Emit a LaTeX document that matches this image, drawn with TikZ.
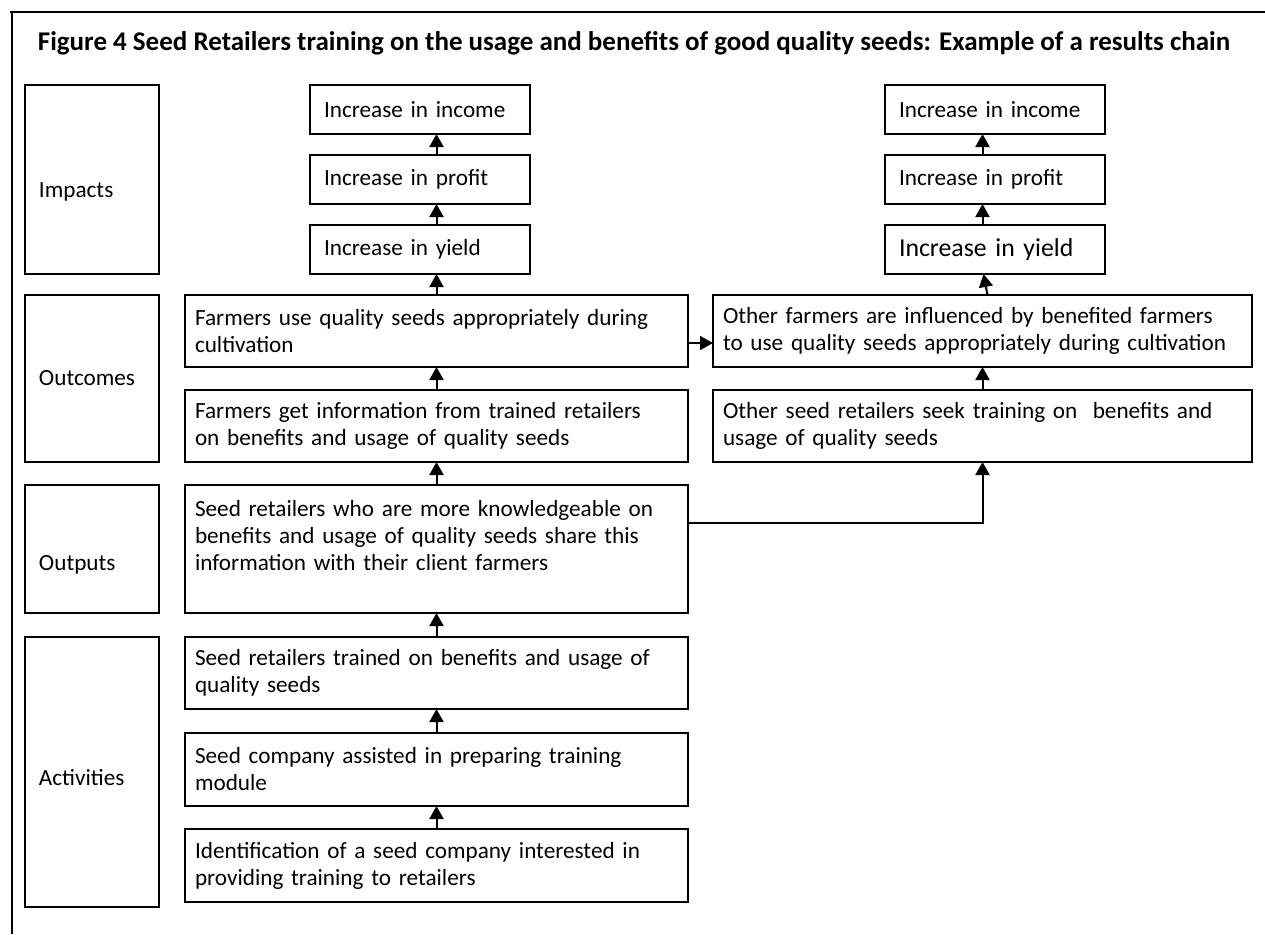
\documentclass[tikz,border=0pt]{standalone}
\usepackage{fontspec}
\setmainfont{Carlito}
\usetikzlibrary{arrows.meta,positioning,calc}
\newcommand\boxfont{\fontsize{11.6}{13.5}\selectfont}

\begin{document}
\begin{tikzpicture}[x=0.5pt,y=-0.5pt,
    box/.style={draw,line width=0.8pt,outer sep=0pt,inner xsep=5pt,inner ysep=2pt,align=left,font=\boxfont},
    wide/.style={box,text width=241.5pt,minimum height=36pt},
    rwide/.style={box,text width=259.5pt,minimum height=36pt},
    small/.style={box,inner xsep=7pt,text width=96pt,minimum height=24.5pt},
    cat/.style={box,inner xsep=7pt,text width=53pt},
    a/.style={-{Triangle[length=6.5pt,width=7pt]},line width=1pt}]
  \useasboundingbox (0,0) rectangle (1265,934);
  \draw[line width=0.8pt] (10,12) -- (1265,12);
  \draw[line width=0.8pt] (12,12) -- (12,934);
  \node[font=\fontsize{13.5}{15}\selectfont\bfseries,anchor=base] (title) at (634,50) {Figure 4 Seed Retailers training on the usage and benefits of good quality seeds: Example of a results chain};

  % left column
  \node[cat,minimum height=94.5pt] (imp) at (92,179.5) {\raisebox{-6pt}[\height][\depth]{Impacts}};
  \node[cat,minimum height=83.5pt] (outc) at (92,378.5) {Outcomes};
  \node[cat,minimum height=64pt] (outp) at (92,549) {\raisebox{-8pt}[\height][\depth]{Outputs}};
  \node[cat,minimum height=135pt] (act) at (92,772) {\raisebox{-3pt}[\height][\depth]{Activities}};

  % middle chain
  \node[wide,minimum height=36.5pt] (ident) at (436.5,865.5) {Identification of a seed company interested in\\providing training to retailers};
  \node[wide,minimum height=36.5pt,above=11.5pt of ident] (comp) {Seed company assisted in preparing training\\module};
  \node[wide,above=12pt of comp] (trained) {Seed retailers trained on benefits and usage of\\quality seeds};
  \node[wide,minimum height=64pt,above=12pt of trained] (share) {Seed retailers who are more knowledgeable on\\benefits and usage of quality seeds share this\\information with their client farmers\\\mbox{}};
  \node[wide,above=11.5pt of share] (get) {Farmers get information from trained retailers\\on benefits and usage of quality seeds};
  \node[wide,above=11.5pt of get] (use) {Farmers use quality seeds appropriately during\\cultivation};
  \node[small,above=10.5pt of use,xshift=-8.25pt] (yld) {Increase in yield};
  \node[small,above=10.5pt of yld] (prf) {Increase in profit};
  \node[small,above=10.5pt of prf] (inc) {Increase in income};

  % right chain
  \node[rwide,right=12.5pt of use] (oth) {Other farmers are influenced by benefited farmers\\to use quality seeds appropriately during cultivation};
  \node[rwide,right=12.5pt of get] (oseed) {Other seed retailers seek training on~ benefits and\\usage of quality seeds};
  \node[small,above=10.5pt of oth,xshift=6.25pt,font=\fontsize{12.9}{15}\selectfont] (yldr) {Increase in yield};
  \node[small,above=10.5pt of yldr] (prfr) {Increase in profit};
  \node[small,above=10.5pt of prfr] (incr) {Increase in income};

  % arrows
  \draw[a] (ident.north) -- (comp.south);
  \draw[a] (comp.north) -- (trained.south);
  \draw[a] (trained.north) -- (share.south);
  \draw[a] (share.north) -- (get.south);
  \draw[a] (get.north) -- (use.south);
  \draw[a] (use.north) -- (use.north |- yld.south);
  \draw[a] (use.north |- yld.north) -- (use.north |- prf.south);
  \draw[a] (use.north |- prf.north) -- (use.north |- inc.south);
  \draw[a] (oseed.north) -- (oth.south);
  \draw[a] ($(oth.north)+(5,0)$) -- ($(oth.north |- yldr.south)+(1,0)$);
  \draw[a] (oth.north |- yldr.north) -- (oth.north |- prfr.south);
  \draw[a] (oth.north |- prfr.north) -- (oth.north |- incr.south);
  \draw[a] ([yshift=-6pt]use.east) -- ([yshift=-6pt]oth.west);
  \draw[a] ([yshift=-19pt]share.north east) -| (oseed.south);
\end{tikzpicture}
\end{document}
